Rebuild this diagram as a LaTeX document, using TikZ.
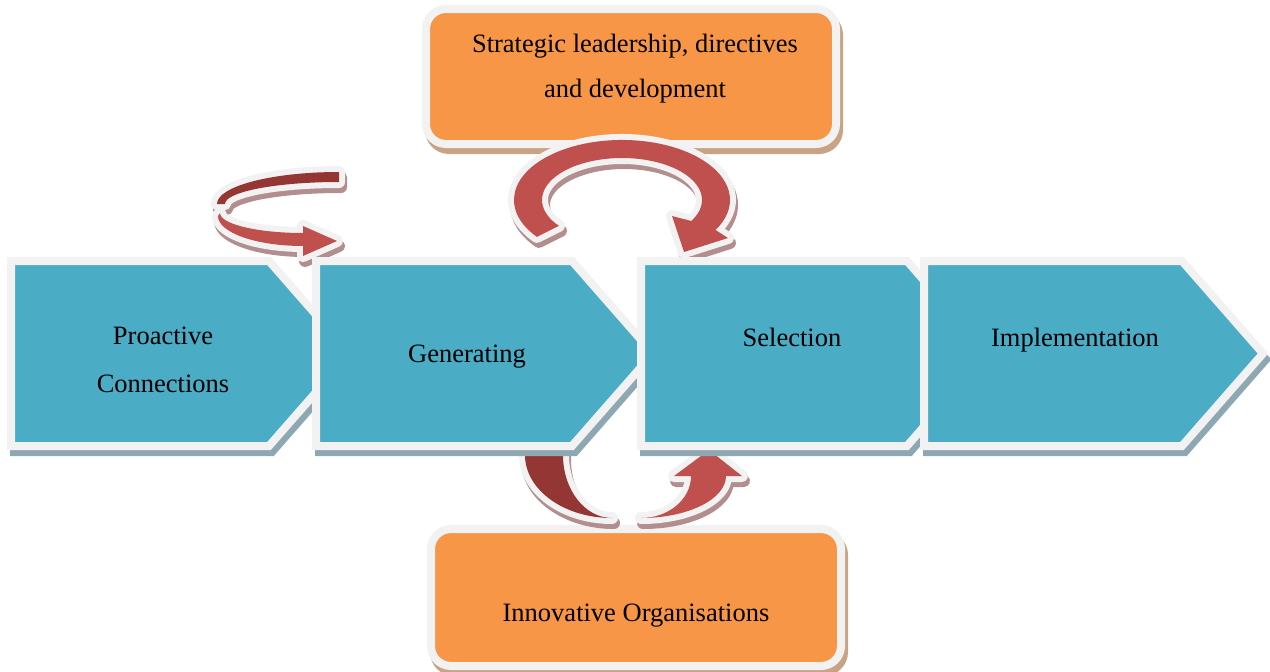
\documentclass[tikz,border=0pt]{standalone}
\usepackage{fontspec}
\setmainfont{Liberation Serif}
\definecolor{tealf}{HTML}{4BACC6}
\definecolor{bordc}{HTML}{F2F2F2}
\definecolor{tshad}{HTML}{8DA8B3}
\definecolor{orangef}{HTML}{F79646}
\definecolor{oshad}{HTML}{C9A383}
\definecolor{redf}{HTML}{C0504D}
\definecolor{dredf}{HTML}{943634}
\definecolor{rshad}{HTML}{B38E8E}
\newcommand\mypent[3]{%
  \draw[pshadow, shift={(3,6)}] (#1-4,261) -- (#2+2,261) -- (#3+5,353.5) -- (#2+2,446) -- (#1-4,446) -- cycle;
  \draw[chev] (#1-4,261) -- (#2+2,261) -- (#3+5,353.5) -- (#2+2,446) -- (#1-4,446) -- cycle;}
\def\arrowB{(536.9,236.9) arc[start angle=142, end angle=390, x radius=108, y radius=60] -- (728,238) -- (684,252) -- (672,216) -- (691.3,221) arc[start angle=390, end angle=142, x radius=80, y radius=42] -- cycle}
\def\arrowAd{(339,172) arc[start angle=270, end angle=180, x radius=122, y radius=32] -- (225,204) arc[start angle=180, end angle=270, x radius=114, y radius=22] -- cycle}
\def\arrowAl{(220,213) arc[start angle=180, end angle=90, x radius=83, y radius=20] -- (303,226) -- (337,241) -- (303,256) -- (303,246) arc[start angle=90, end angle=180, x radius=85, y radius=30] -- cycle}
\def\arrowCd{(525,446) -- (525,455) arc[start angle=180, end angle=90, x radius=87, y radius=63] arc[start angle=90, end angle=180, x radius=49, y radius=63] -- (563,446) -- cycle}
\def\arrowCl{(641,518) arc[start angle=90, end angle=0, x radius=85, y radius=42] -- (742,476) -- (709,450) -- (674,476) -- (691,476) arc[start angle=0, end angle=90, x radius=50, y radius=42] -- cycle}
\begin{document}
\begin{tikzpicture}[x=1pt,y=-1pt,
  chev/.style={fill=tealf, draw=bordc, line width=8pt, line join=miter},
  pshadow/.style={fill=tshad, draw=tshad, line width=8pt, line join=miter},
  obox/.style={fill=orangef, draw=bordc, line width=8pt, rounded corners=20pt},
  oboxshadow/.style={fill=oshad, draw=oshad, line width=8pt, rounded corners=20pt},
  rshadow/.style={fill=rshad, draw=rshad, line width=12pt, line join=round},
  routline/.style={draw=bordc, line width=12pt, line join=round},
  lbl/.style={inner sep=0pt, align=center, text=black}]
\useasboundingbox (0,0) rectangle (1270,672);
% top orange box
\draw[oboxshadow, shift={(3,6)}] (426,9) rectangle (836,144);
\draw[obox] (426,9) rectangle (836,144);
\node[lbl, font=\fontsize{26.5}{45.4}\selectfont] (strat) at (635,68.7) {Strategic leadership, directives\\and development};
% big loop arrow
\draw[rshadow, shift={(2,5)}] \arrowB;
\draw[routline] \arrowB;
\fill[redf] \arrowB;
% small loop arrow
\draw[rshadow, shift={(2,5)}] \arrowAd;
\draw[rshadow, shift={(2,5)}] \arrowAl;
\draw[routline] \arrowAd;
\draw[routline] \arrowAl;
\fill[dredf] \arrowAd;
\fill[redf] \arrowAl;
% bottom orange box
\draw[oboxshadow, shift={(3,6)}] (431,529) rectangle (841,666);
\draw[obox] (431,529) rectangle (841,666);
\node[lbl, font=\fontsize{26.5}{32}\selectfont, anchor=base] (innov) at (636,621) {Innovative Organisations};
% bottom arrow
\draw[rshadow, shift={(2,5)}] \arrowCd;
\draw[rshadow, shift={(2,5)}] \arrowCl;
\draw[routline] \arrowCd;
\draw[routline] \arrowCl;
\fill[dredf] \arrowCd;
\fill[redf] \arrowCl;
% process chevrons
\mypent{15}{267}{345}
\mypent{320}{570}{648}
\mypent{645}{905}{983}
\mypent{928}{1180}{1258}
\node[lbl, font=\fontsize{26.5}{48}\selectfont] (proactive) at (163,359.8) {Proactive\\Connections};
\node[lbl, font=\fontsize{26.5}{32}\selectfont, anchor=base] (generating) at (467,362) {Generating};
\node[lbl, font=\fontsize{26.5}{32}\selectfont, anchor=base] (selection) at (792,346.5) {Selection};
\node[lbl, font=\fontsize{26.5}{32}\selectfont, anchor=base] (implementation) at (1075,346.5) {Implementation};
\end{tikzpicture}
\end{document}
